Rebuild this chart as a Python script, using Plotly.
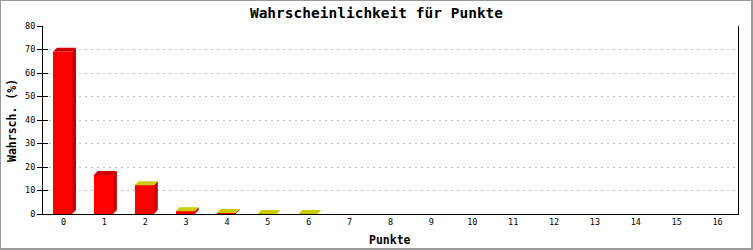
import plotly.graph_objects as go

# ---- data ----
categories = list(range(17))
probability = [69.0, 16.6, 12.2, 1.2, 0.4, 0.0, 0.0] + [None] * 10
tick_labels = [str(c) for c in categories]
y_ticks = [0, 10, 20, 30, 40, 50, 60, 70, 80]

# ---- styles ----
FRONT = "#FF0000"
SIDE = "#CC0000"
TOP_RED = "#CC0000"
TOP_YEL = "#CCCC00"
top_colors = [TOP_RED, TOP_RED] + [TOP_YEL] * 5 + [None] * 10

W_TOT, H_TOT = 753, 250
L, R, T, B = 43, 15, 26, 36
PW, PH = W_TOT - L - R, H_TOT - T - B
XMIN, XMAX = -0.5, 16.5
YMIN, YMAX = 0, 80
xs = PW / (XMAX - XMIN)   # px per x unit
ys = PH / (YMAX - YMIN)   # px per y unit
DX, DY = 4 / xs, 4 / ys   # 3D depth in data units
BW, BOFF = 0.465, -0.255
FONT = "DejaVu Sans Mono"

def px_x(px):
    return (px - L) / PW

def px_y(py):
    return (H_TOT - B - py) / PH

fig = go.Figure()

vx = [c for c, v in zip(categories, probability) if v is not None]
vy = [v for v in probability if v is not None]
fig.add_trace(go.Bar(x=vx, y=vy, width=BW, offset=BOFF,
                     marker=dict(color=FRONT, line=dict(width=0)),
                     hoverinfo="skip", showlegend=False))

for c, v, tc in zip(categories, probability, top_colors):
    if v is None:
        continue
    x0 = c + BOFF
    x1 = x0 + BW
    # side face
    if v > 0:
        fig.add_trace(go.Scatter(
            x=[x1, x1, x1 + DX, x1 + DX, x1], y=[0, v, v + DY, DY, 0],
            mode="lines", fill="toself", fillcolor=SIDE,
            line=dict(width=0, color=SIDE), hoverinfo="skip", showlegend=False))
    # top face
    fig.add_trace(go.Scatter(
        x=[x0, x1, x1 + DX, x0 + DX, x0], y=[v, v, v + DY, v + DY, v],
        mode="lines", fill="toself", fillcolor=tc,
        line=dict(width=0, color=tc), hoverinfo="skip", showlegend=False))

# dummy trace for inside ticks axis
fig.add_trace(go.Scatter(x=[None], y=[None], yaxis="y2", showlegend=False))

shapes = [
    dict(type="line", xref="paper", yref="paper", x0=px_x(0), x1=px_x(W_TOT),
         y0=px_y(0.5), y1=px_y(0.5), line=dict(color="#999999", width=1)),
    dict(type="line", xref="paper", yref="paper", x0=px_x(0.5), x1=px_x(0.5),
         y0=px_y(0), y1=px_y(H_TOT), line=dict(color="#999999", width=1)),
    dict(type="line", xref="paper", yref="paper", x0=px_x(752), x1=px_x(752),
         y0=px_y(0), y1=px_y(H_TOT), line=dict(color="#999999", width=2)),
    dict(type="line", xref="paper", yref="paper", x0=px_x(0), x1=px_x(W_TOT),
         y0=px_y(249), y1=px_y(249), line=dict(color="#999999", width=2)),
]

fig.update_layout(
    width=W_TOT, height=H_TOT,
    margin=dict(l=L, r=R, t=T, b=B),
    paper_bgcolor="white", plot_bgcolor="white",
    font=dict(family=FONT, color="black", size=9),
    title=dict(text="<b>Wahrscheinlichkeit für Punkte</b>",
               font=dict(family=FONT, size=14.5, color="black"),
               x=0.5, xanchor="center", xref="container",
               y=1 - 12.5 / H_TOT, yanchor="middle", yref="container"),
    bargap=0,
    xaxis=dict(range=[XMIN, XMAX], tickmode="array", tickvals=categories,
               ticktext=tick_labels, ticks="", showgrid=False, zeroline=False,
               showline=True, linecolor="black", linewidth=1,
               tickfont=dict(family=FONT, size=8.5, color="black"), fixedrange=True),
    yaxis=dict(range=[YMIN, YMAX], tickmode="array", tickvals=y_ticks,
               ticks="outside", ticklen=5, tickcolor="black",
               showgrid=True, gridcolor="#BBBBBB", griddash="2px,4px",
               zeroline=False, showline=True, mirror=True,
               linecolor="black", linewidth=1,
               tickfont=dict(family=FONT, size=8.5, color="black")),
    yaxis2=dict(range=[YMIN, YMAX], overlaying="y", side="left",
                tickmode="array", tickvals=y_ticks, ticks="inside", ticklen=5,
                tickcolor="black", showticklabels=False, showgrid=False,
                zeroline=False, showline=False),
    shapes=shapes,
    annotations=[
        dict(text="<b>Wahrsch. (%)</b>", xref="paper", yref="paper",
             x=px_x(12), y=px_y(121), textangle=-90, showarrow=False,
             xanchor="center", yanchor="middle",
             font=dict(family=FONT, size=11.5, color="black")),
        dict(text="<b>Punkte</b>", xref="paper", yref="paper",
             x=px_x(390), y=px_y(240), showarrow=False,
             xanchor="center", yanchor="middle",
             font=dict(family=FONT, size=11.5, color="black")),
    ],
)

fig.write_html("out.html")
